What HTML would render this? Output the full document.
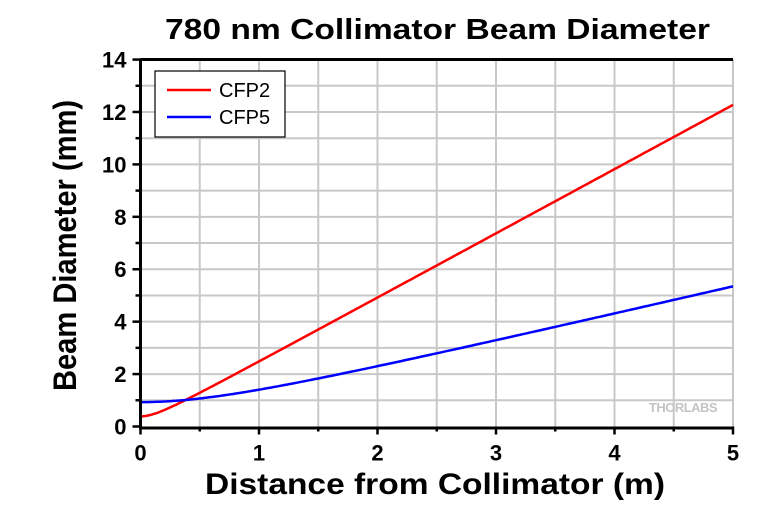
<!DOCTYPE html>
<html><head><meta charset="utf-8"><style>
body{margin:0;background:#fff}
svg text{font-family:"Liberation Sans",Arial,sans-serif}
</style></head><body>
<svg id="s" width="780" height="511" xmlns="http://www.w3.org/2000/svg">
<rect width="780" height="511" fill="#fff"/>
<g id="grid" stroke="#c8c8c8" stroke-width="2"></g>
<text x="683" y="412" font-size="13" font-weight="bold" fill="#c4c4c4" text-anchor="middle" letter-spacing="-0.5">THORLABS</text>
<polyline id="c2" fill="none" stroke="#ff0000" stroke-width="2.5"/>
<polyline id="c5" fill="none" stroke="#0000ff" stroke-width="2.5"/>
<g id="ax" stroke="#000" stroke-width="3" fill="none"></g>
<g id="lbl" font-size="22" font-weight="bold" fill="#000"></g>
<rect x="155" y="71" width="130" height="66" fill="#fff" stroke="#000" stroke-width="1.2"/>
<line x1="167" y1="90" x2="211" y2="90" stroke="#ff0000" stroke-width="2.5"/>
<line x1="167" y1="117" x2="211" y2="117" stroke="#0000ff" stroke-width="2.5"/>
<text x="219" y="97" font-size="20">CFP2</text>
<text x="219" y="124" font-size="20">CFP5</text>
<text x="165" y="39" font-size="29" font-weight="bold" textLength="545" lengthAdjust="spacingAndGlyphs">780 nm Collimator Beam Diameter</text>
<text x="205" y="494" font-size="30" font-weight="bold" textLength="460" lengthAdjust="spacingAndGlyphs">Distance from Collimator (m)</text>
<text transform="translate(76,391) rotate(-90)" font-size="32" font-weight="bold" textLength="291" lengthAdjust="spacingAndGlyphs">Beam Diameter (mm)</text>
</svg>
<script>
var X0=140.5,XS=118.5,Y0=426.5,YS=26.21;
function X(v){return X0+v*XS}function Y(v){return Y0-v*YS}
var ns="http://www.w3.org/2000/svg";
function el(p,t,a){var e=document.createElementNS(ns,t);for(var k in a)e.setAttribute(k,a[k]);p.appendChild(e);return e}
var g=document.getElementById('grid');
for(var i=1;i<=10;i++){var x=X(i*0.5);el(g,'line',{x1:x,y1:Y(0),x2:x,y2:Y(14)})}
for(var j=1;j<14;j++){var y=Y(j);el(g,'line',{x1:X(0),y1:y,x2:X(5),y2:y})}
var ax=document.getElementById('ax');
el(ax,'path',{d:'M'+X(0)+' '+Y(14)+'H'+X(5)+'M'+X(0)+' '+(Y(14)-1)+'V'+(Y(0)+1.5)+'H'+X(5)});
for(var i=0;i<=10;i++){var x=X(i*0.5);el(ax,'line',{x1:x,y1:Y(0),x2:x,y2:Y(0)+(i%2?5:8),'stroke-width':2.5})}
for(var j=0;j<=14;j++){var y=Y(j);el(ax,'line',{x1:X(0),y1:y,x2:X(0)-(j%2?5:8),y2:y,'stroke-width':2.5})}
var lb=document.getElementById('lbl');
for(var i=0;i<=5;i++){var t=el(lb,'text',{x:X(i),y:Y(0)+34,'text-anchor':'middle'});t.textContent=i}
for(var j=0;j<=14;j+=2){var t=el(lb,'text',{x:X(0)-14,y:Y(j)+8,'text-anchor':'end'});t.textContent=j}
function curve(id,d0,zr){var p=[];for(var z=0;z<=5.0001;z+=0.02){p.push(X(z).toFixed(1)+','+Y(d0*Math.sqrt(1+(z/zr)*(z/zr))).toFixed(1))}document.getElementById(id).setAttribute('points',p.join(' '))}
curve('c2',0.39,0.159);curve('c5',0.93,0.883);
</script>
</body></html>
